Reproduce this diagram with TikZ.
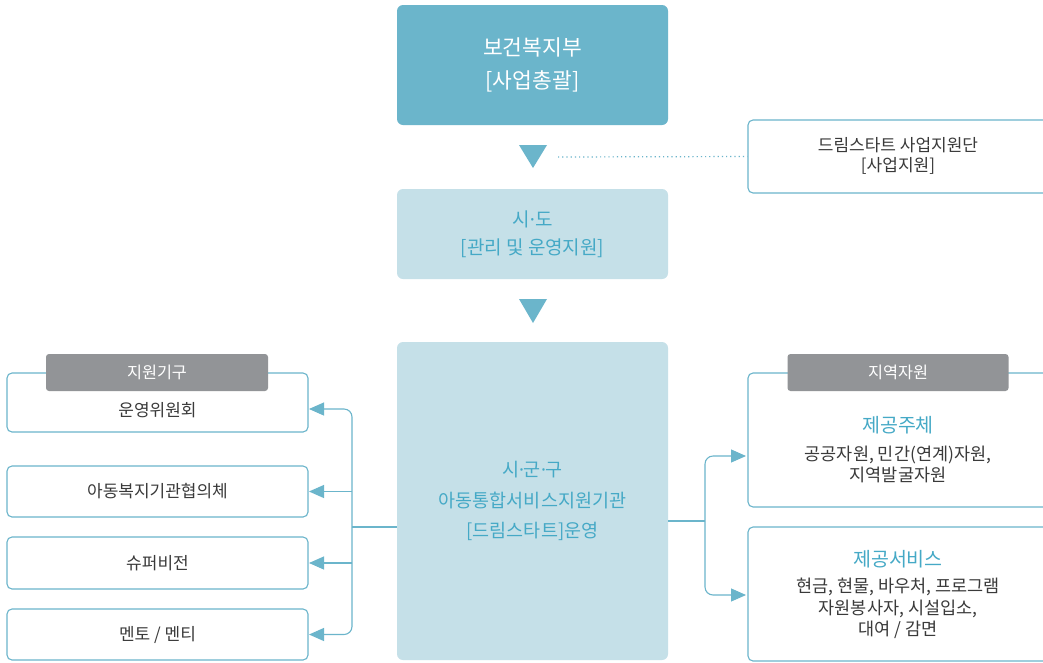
\documentclass[tikz,border=0pt]{standalone}
\usepackage{fontspec}
\setmainfont{Noto Sans CJK KR}
\newfontfamily\latinfont{Noto Sans}
\newcommand{\mdot}{{\latinfont ·}}
\usetikzlibrary{arrows.meta}
\definecolor{tealA}{HTML}{6BB5CB}
\definecolor{tealL}{HTML}{C5E0E8}
\definecolor{tealT}{HTML}{45A9C6}
\definecolor{tabG}{HTML}{929497}
\definecolor{txt}{HTML}{3A3A3A}
\begin{document}
\begin{tikzpicture}[x=1pt,y=-1pt,
  solid box/.style={rounded corners=6pt, inner sep=0pt, align=center},
  line box/.style={draw=tealA, line width=1.1pt, rounded corners=5pt, fill=white, inner sep=0pt},
  tab/.style={fill=tabG, rounded corners=3pt, text=white, inner sep=0pt, minimum width=222pt, minimum height=37pt, font=\fontsize{16.3}{18}\selectfont},
  lbl/.style={text=txt, align=center, inner sep=0pt, font=\fontsize{17}{21}\selectfont},
  ttl/.style={text=tealT, align=center, inner sep=0pt, font=\fontsize{19.5}{22}\selectfont},
  conn/.style={draw=tealA, line width=1.1pt, rounded corners=8pt},
  arr/.style={conn, -{Triangle[length=15pt,width=13pt]}},
  ]
\useasboundingbox (0,0) rectangle (1043,662);
\clip (0,0) rectangle (1043,662);
\fill[white] (0,0) rectangle (1043,662);

% top column
\node[solid box, fill=tealA, text=white, minimum width=271pt, minimum height=120pt,
      font=\fontsize{21.5}{33}\selectfont] (mohw) at (532.5,65) {보건복지부\\{[사업총괄]}};
\node[solid box, fill=tealL, text=tealT, minimum width=271pt, minimum height=90pt,
      font=\fontsize{19}{28}\selectfont] (sido) at (532.5,234) {시\mdot 도\\{[관리 및 운영지원]}};
\node[solid box, fill=tealL, text=tealT, minimum width=271pt, minimum height=318pt,
      font=\fontsize{18.5}{30.5}\selectfont] (ctr) at (532.5,501) {시\mdot 군\mdot 구\\아동통합서비스지원기관\\{[드림스타트]운영}};

\fill[tealA] (519,145) -- (547,145) -- (533,168) -- cycle;
\fill[tealA] (519,299) -- (547,299) -- (533,323) -- cycle;

% dream start support
\node[line box, minimum width=300pt, minimum height=73pt] (dream) at (898,156.5) {};
\node[lbl, font=\fontsize{17}{20}\selectfont] (dreamt) at (898,156) {드림스타트 사업지원단\\{[사업지원]}};
\coordinate (dot0) at (558,157);
\draw[tealA, line width=1.2pt, dash pattern=on 1.2pt off 3pt] (dot0) -- (dream.west);

% left boxes
\node[line box, minimum width=301pt, minimum height=59pt] (b1) at (157.5,402.5) {};
\node[line box, minimum width=301pt, minimum height=51pt] (b2) at (157.5,491.5) {};
\node[line box, minimum width=301pt, minimum height=52pt] (b3) at (157.5,563) {};
\node[line box, minimum width=301pt, minimum height=51pt] (b4) at (157.5,634.5) {};
\node[tab] (ltab) at (157,372.5) {지원기구};
\node[lbl] (t1) at (157.5,410) {운영위원회};
\node[lbl] (t2) at (157.5,491.5) {아동복지기관협의체};
\node[lbl] (t3) at (157.5,563) {슈퍼비전};
\node[lbl] (t4) at (157.5,634.5) {멘토 / 멘티};

% right boxes
\node[line box, minimum width=300pt, minimum height=134pt] (r1) at (898,440) {};
\node[line box, minimum width=300pt, minimum height=134pt] (r2) at (898,594) {};
\node[tab, minimum width=221pt] (rtab) at (898,372.5) {지역자원};
\node[ttl] (r1t) at (898,425) {제공주체};
\node[lbl, font=\fontsize{17.5}{21}\selectfont] (r1b) at (898,464.5) {공공자원, 민간(연계)자원,\\지역발굴자원};
\node[ttl] (r2t) at (898,559) {제공서비스};
\node[lbl, font=\fontsize{17.5}{21.5}\selectfont] (r2b) at (898,608.5) {현금, 현물, 바우처, 프로그램\\자원봉사자, 시설입소,\\대여 / 감면};

% left connectors
\coordinate (jl) at (352,527);
\coordinate (a1) at (309,409);
\coordinate (a2) at (309,491.5);
\coordinate (a3) at (309,563);
\coordinate (a4) at (309,634.5);
\draw[conn] ([yshift=-26pt]ctr.west) -- (jl);
\draw[arr] (jl) -- (jl |- a1) -- (a1);
\draw[arr] (jl) -- (jl |- a4) -- (a4);
\draw[arr] (jl |- a2) -- (a2);
\draw[arr] (jl |- a3) -- (a3);

% right connectors
\coordinate (jr) at (705,521);
\coordinate (c1) at (746,456);
\coordinate (c2) at (746,595);
\draw[conn] ([yshift=-20pt]ctr.east) -- (jr);
\draw[arr] (jr) -- (jr |- c1) -- (c1);
\draw[arr] (jr) -- (jr |- c2) -- (c2);
\end{tikzpicture}
\end{document}
